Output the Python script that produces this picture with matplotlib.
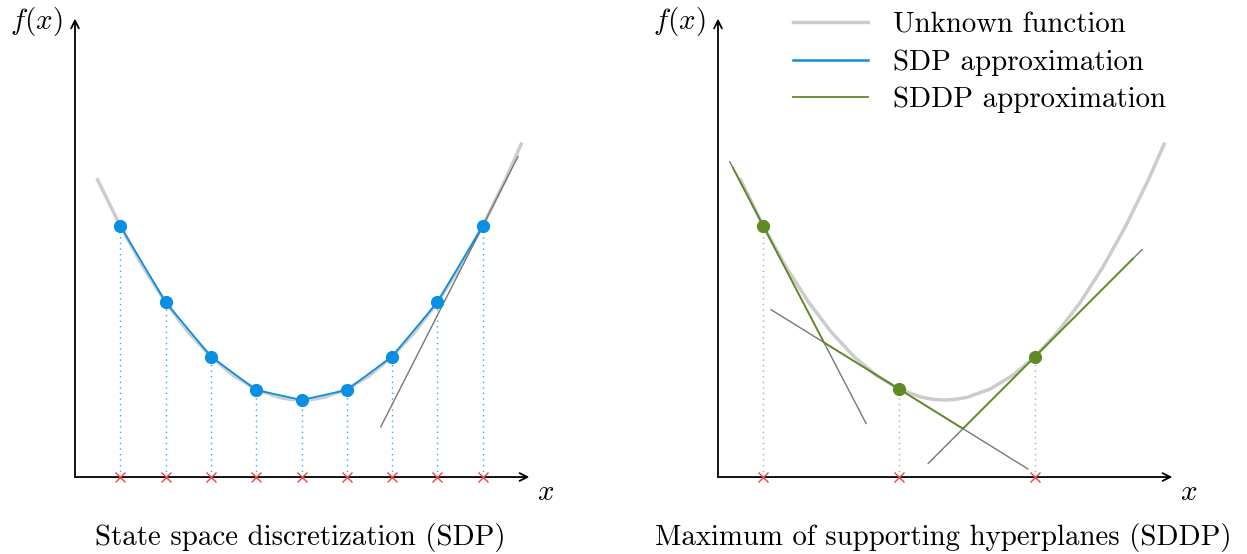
import numpy as np
import matplotlib
matplotlib.use("Agg")
import matplotlib.pyplot as plt

plt.rcParams['font.family'] = ['cmr10', 'DejaVu Serif']
plt.rcParams['mathtext.fontset'] = 'cm'
plt.rcParams['axes.formatter.use_mathtext'] = True

# unknown function
curve_x = [0.5, 1.0, 1.5, 2.0, 2.5, 3.0, 3.5, 4.0, 4.5, 4.75, 5.0, 5.25,
           5.5, 6.0, 6.5, 7.0, 7.5, 8.0, 8.5, 9.0, 9.5, 9.85]
curve_y = [6.56, 5.54, 4.64, 3.86, 3.20, 2.66, 2.24, 1.94, 1.76, 1.715, 1.70, 1.715,
           1.76, 1.94, 2.24, 2.66, 3.20, 3.86, 4.64, 5.54, 6.56, 7.35]

# SDP grid points
sdp_x = [1, 2, 3, 4, 5, 6, 7, 8, 9]
sdp_y = [5.54, 3.86, 2.66, 1.92, 1.70, 1.92, 2.66, 3.86, 5.54]

# gray line in the left panel (through last grid point)
left_cut = dict(x0=9.0, y0=5.54, slope=1.97, xmin=6.75, xmax=9.78)

# SDDP cuts: point, slope and drawn range
sddp_x = [1, 4, 7]
sddp_y = [5.54, 1.94, 2.66]
sddp_slope = [-1.92, -0.62, 1.0]
cut_xmin = [0.26, 1.17, 4.64]
cut_xmax = [3.27, 6.84, 9.36]
sddp_range = (0.33, 9.16)

GRAY = '#cccccc'
BLUE = '#0a8fe2'
GREEN = '#5f8a25'
RED = '#ee4444'
CUT = '#777777'

fig = plt.figure(figsize=(12.47, 5.54), dpi=100)
unit = 45.3


def make_axes(origin_px):
    left = (origin_px - unit) / 1247
    ax = fig.add_axes([left, (554 - 504.2) / 554, 11.6 * unit / 1247, 11.0 * unit / 554])
    ax.set_xlim(-1.0, 10.6)
    ax.set_ylim(-0.6, 10.4)
    ax.axis('off')
    arrow = dict(arrowstyle='->', lw=1.3, color='black', shrinkA=0, shrinkB=0,
                 mutation_scale=14)
    ax.annotate('', xy=(10.03, 0), xytext=(0, 0), arrowprops=arrow)
    ax.annotate('', xy=(0, 10.12), xytext=(0, 0), arrowprops=arrow)
    ax.text(-0.28, 10.05, r'$f(x)$', fontsize=21, ha='right', va='center')
    ax.text(10.38, -0.35, r'$x$', fontsize=21, ha='center', va='center')
    return ax


# left panel: SDP
ax1 = make_axes(75)
ax1.plot(curve_x, curve_y, color=GRAY, lw=2.5, zorder=2)
for xi, yi in zip(sdp_x, sdp_y):
    ax1.plot([xi, xi], [0, yi], ls=(0, (1, 3)), color=BLUE, lw=1.0, alpha=0.8, zorder=1)
lx = np.array([left_cut['xmin'], left_cut['xmax']])
ax1.plot(lx, left_cut['y0'] + left_cut['slope'] * (lx - left_cut['x0']), color=CUT, lw=1.0, zorder=3)
ax1.plot(sdp_x, sdp_y, color=BLUE, lw=1.3, marker='o', ms=8.5, zorder=4)
ax1.plot(sdp_x, [0] * len(sdp_x), ls='none', marker='x', ms=6.5, mew=1.0, color=RED, zorder=5)

# right panel: SDDP
ax2 = make_axes(718)
ax2.plot(curve_x, curve_y, color=GRAY, lw=2.5, zorder=2)
for xi, yi in zip(sddp_x, sddp_y):
    ax2.plot([xi, xi], [0, yi], ls=(0, (1, 3)), color=GREEN, lw=1.0, alpha=0.6, zorder=1)
for xi, yi, s, a, b in zip(sddp_x, sddp_y, sddp_slope, cut_xmin, cut_xmax):
    cx = np.array([a, b])
    ax2.plot(cx, yi + s * (cx - xi), color=CUT, lw=1.0, zorder=3)
gx = np.linspace(sddp_range[0], sddp_range[1], 2000)
gy = np.max([yi + s * (gx - xi) for xi, yi, s in zip(sddp_x, sddp_y, sddp_slope)], axis=0)
ax2.plot(gx, gy, color=GREEN, lw=1.3, zorder=4)
ax2.plot(sddp_x, sddp_y, ls='none', color=GREEN, marker='o', ms=8.5, zorder=5)
ax2.plot(sddp_x, [0] * len(sddp_x), ls='none', marker='x', ms=6.5, mew=1.0, color=RED, zorder=6)

# legend
handles = [plt.Line2D([], [], color=GRAY, lw=2.5),
           plt.Line2D([], [], color=BLUE, lw=1.8),
           plt.Line2D([], [], color=GREEN, lw=1.3)]
labels = ['Unknown function', 'SDP approximation', 'SDDP approximation']
fig.legend(handles, labels, loc='upper left', bbox_to_anchor=(793 / 1247, 1 - 12 / 554),
           frameon=False, fontsize=20.8, handlelength=2.6, handletextpad=0.87,
           labelspacing=0.38, borderpad=0.0, borderaxespad=0.0)

fig.text(300 / 1247, (554 - 538) / 554, 'State space discretization (SDP)',
         fontsize=20.8, ha='center', va='center')
fig.text(943 / 1247, (554 - 538) / 554, 'Maximum of supporting hyperplanes (SDDP)',
         fontsize=20.8, ha='center', va='center')

fig.savefig('out.png', dpi=100)
